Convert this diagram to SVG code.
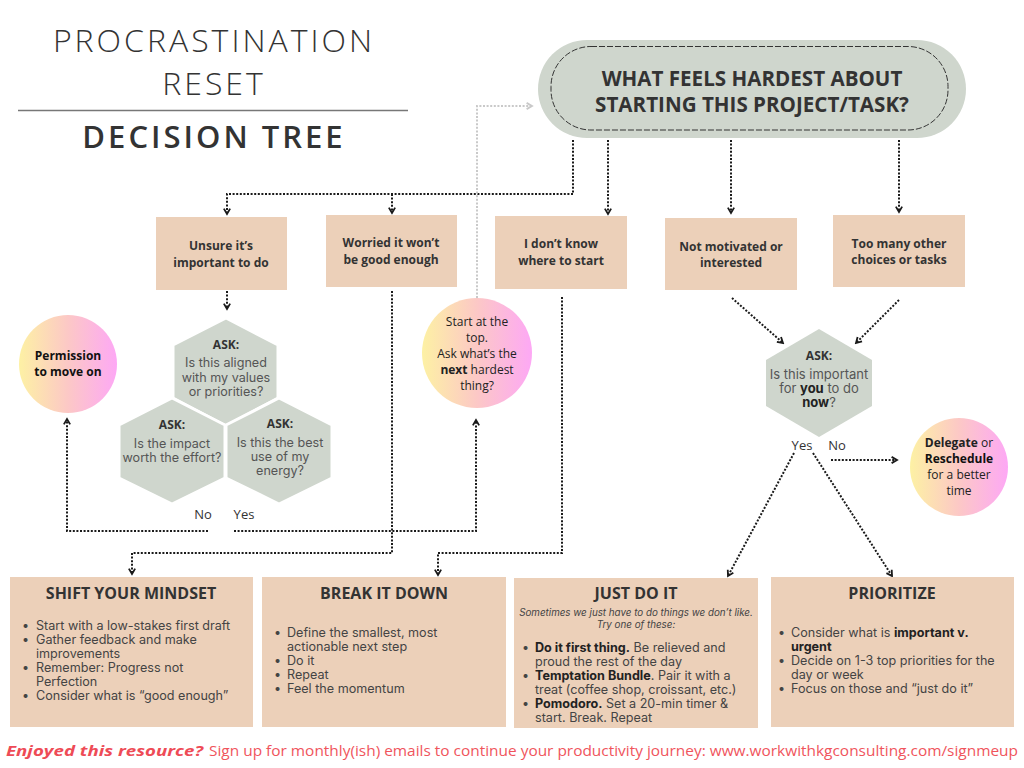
<svg xmlns="http://www.w3.org/2000/svg" width="1024" height="768" viewBox="0 0 1024 768">
<style>
.bg{fill:#ffffff}
.box{fill:#ecd0b9}
.sage{fill:#cfd6cd}
.hexs{fill:#cfd6cd;stroke:#ffffff;stroke-width:3;stroke-linejoin:round}
.lbl{font-family:"Open Sans",sans-serif;font-weight:700;font-size:12px;fill:#333;text-anchor:middle}
.ask{font-family:"Open Sans",sans-serif;font-weight:700;font-size:12px;fill:#333;text-anchor:middle}
.q{font-family:Inter,"Open Sans",sans-serif;font-weight:400;font-size:12.6px;fill:#555;text-anchor:middle}
.q2{font-family:Inter,"Open Sans",sans-serif;font-weight:400;font-size:13px;fill:#555;text-anchor:middle}
.circ{font-family:"Open Sans",sans-serif;font-weight:400;font-size:12px;fill:#222;text-anchor:middle}
.circb{font-family:"Open Sans",sans-serif;font-weight:700;font-size:12px;fill:#111;text-anchor:middle}
.yn{font-family:"Open Sans",sans-serif;font-weight:400;font-size:13px;fill:#333;text-anchor:middle}
.ttl{font-family:"Open Sans",sans-serif;font-weight:700;font-size:16px;fill:#333;text-anchor:middle}
.body{font-family:Inter,"Open Sans",sans-serif;font-weight:400;font-size:12.6px;fill:#444}
.it{font-family:Inter,"Open Sans",sans-serif;font-style:italic;font-size:9.8px;fill:#444;text-anchor:middle}
.b{font-weight:700;fill:#222}
.conn{fill:none;stroke:#1a1a1a;stroke-width:2;stroke-dasharray:2 1.6}
.connG{fill:none;stroke:#c9c9c9;stroke-width:2;stroke-dasharray:2 1.6}
</style>
<defs>
<marker id="ah" viewBox="0 0 10 10" refX="8" refY="5" markerWidth="9" markerHeight="9" orient="auto" markerUnits="userSpaceOnUse">
<path d="M2,1.5 L8,5 L2,8.5" fill="none" stroke="#1a1a1a" stroke-width="2"/>
</marker>
<marker id="ahG" viewBox="0 0 10 10" refX="8" refY="5" markerWidth="9" markerHeight="9" orient="auto" markerUnits="userSpaceOnUse">
<path d="M2,1.5 L8,5 L2,8.5" fill="none" stroke="#c9c9c9" stroke-width="2"/>
</marker>
<linearGradient id="grad" x1="0" y1="0" x2="1" y2="0">
<stop offset="0" stop-color="#fdf1a4"/>
<stop offset="0.5" stop-color="#fcc8c6"/>
<stop offset="1" stop-color="#fda8f5"/>
</linearGradient>
</defs>
<rect class="bg" x="0" y="0" width="1024" height="768"/>

<g id="title">
<text x="214" y="52" font-family="'Open Sans',sans-serif" font-weight="300" font-size="32" fill="#333" text-anchor="middle" letter-spacing="3">PROCRASTINATION</text>
<text x="214" y="95" font-family="'Open Sans',sans-serif" font-weight="300" font-size="32" fill="#333" text-anchor="middle" letter-spacing="3">RESET</text>
<line x1="18" y1="110.5" x2="408" y2="110.5" stroke="#777" stroke-width="1.5"/>
<text x="214" y="148" font-family="'Open Sans',sans-serif" font-weight="600" font-size="31" fill="#333" text-anchor="middle" letter-spacing="3">DECISION TREE</text>
</g>

<g id="connectors">
<path class="conn" d="M573,140 V194 H227 V214" marker-end="url(#ah)"/>
<path class="conn" d="M392,194 V213" marker-end="url(#ah)"/>
<path class="conn" d="M608,140 V214" marker-end="url(#ah)"/>
<path class="conn" d="M731,140 V213" marker-end="url(#ah)"/>
<path class="conn" d="M899,140 V212" marker-end="url(#ah)"/>
<path class="conn" d="M227,291 V309" marker-end="url(#ah)"/>
<path class="conn" d="M732,298 L783,343" marker-end="url(#ah)"/>
<path class="conn" d="M899,300 L856,343" marker-end="url(#ah)"/>
<path class="conn" d="M208,531 H67 V419" marker-end="url(#ah)"/>
<path class="conn" d="M234,531 H476 V420" marker-end="url(#ah)"/>
<path class="connG" d="M477,298 V106 H532" marker-end="url(#ahG)"/>
<path class="conn" d="M392,291 V553 H132 V574" marker-end="url(#ah)"/>
<path class="conn" d="M562,297 V553 H438 V575" marker-end="url(#ah)"/>
<path class="conn" d="M831,460 H897" marker-end="url(#ah)"/>
<path class="conn" d="M794,453 L728,576" marker-end="url(#ah)"/>
<path class="conn" d="M813,453 L892,576" marker-end="url(#ah)"/>
</g>

<g id="start">
<rect class="sage" x="538" y="40" width="428" height="98" rx="49"/>
<rect x="551" y="46.5" width="397" height="83.5" rx="40" fill="none" stroke="#333" stroke-width="1" stroke-dasharray="6 2"/>
<text x="752" y="86" font-family="'Open Sans',sans-serif" font-weight="700" font-size="20.6" fill="#333" text-anchor="middle">WHAT FEELS HARDEST ABOUT</text>
<text x="752" y="112" font-family="'Open Sans',sans-serif" font-weight="700" font-size="20.6" fill="#333" text-anchor="middle">STARTING THIS PROJECT/TASK?</text>
</g>

<g id="unsure">
<rect class="box" x="156" y="217" width="131" height="73"/>
<text class="lbl" x="221" y="250">Unsure it’s</text>
<text class="lbl" x="221" y="267">important to do</text>
</g>
<g id="worried">
<rect class="box" x="326" y="215" width="131" height="72"/>
<text class="lbl" x="391" y="247">Worried it won’t</text>
<text class="lbl" x="391" y="264">be good enough</text>
</g>
<g id="dontknow">
<rect class="box" x="495" y="216" width="132" height="73"/>
<text class="lbl" x="561" y="248">I don’t know</text>
<text class="lbl" x="561" y="265">where to start</text>
</g>
<g id="notmotivated">
<rect class="box" x="665" y="218" width="132" height="72"/>
<text class="lbl" x="731" y="251">Not motivated or</text>
<text class="lbl" x="731" y="267">interested</text>
</g>
<g id="toomany">
<rect class="box" x="833" y="215" width="132" height="72"/>
<text class="lbl" x="899" y="248">Too many other</text>
<text class="lbl" x="899" y="264">choices or tasks</text>
</g>

<g id="hex-aligned">
<polygon class="hexs" points="226,318 278,345 278,398 226,426 173,398 173,345"/>
<text class="ask" x="226" y="349">ASK:</text>
<text class="q" x="226" y="367">Is this aligned</text>
<text class="q" x="226" y="382">with my values</text>
<text class="q" x="226" y="396">or priorities?</text>
</g>
<g id="hex-impact">
<polygon class="hexs" points="172,398 225,425 225,478 172,504 119,478 119,425"/>
<text class="ask" x="172" y="429">ASK:</text>
<text class="q" x="172" y="448">Is the impact</text>
<text class="q" x="172" y="462">worth the effort?</text>
</g>
<g id="hex-energy">
<polygon class="hexs" points="279,398 332,425 332,478 279,504 226,478 226,425"/>
<text class="ask" x="280" y="428">ASK:</text>
<text class="q" x="280" y="447">Is this the best</text>
<text class="q" x="280" y="461">use of my</text>
<text class="q" x="280" y="475">energy?</text>
</g>
<g id="yesno-left">
<text class="yn" x="203" y="519">No</text>
<text class="yn" x="244" y="519">Yes</text>
</g>

<g id="permission">
<circle cx="68" cy="364" r="49" fill="url(#grad)"/>
<text class="circb" x="68" y="360">Permission</text>
<text class="circb" x="68" y="376">to move on</text>
</g>

<g id="nexthardest">
<circle cx="477" cy="353" r="55" fill="url(#grad)"/>
<text class="circ" x="477" y="326">Start at the</text>
<text class="circ" x="477" y="342">top.</text>
<text class="circ" x="477" y="358">Ask what’s the</text>
<text class="circ" x="477" y="374"><tspan class="b">next</tspan> hardest</text>
<text class="circ" x="477" y="390">thing?</text>
</g>

<g id="hex-important">
<polygon class="sage" points="819,329 872,360 872,406 819,437 766,406 766,360"/>
<text class="ask" x="819" y="360">ASK:</text>
<text class="q2" x="819" y="379">Is this important</text>
<text class="q2" x="819" y="393">for <tspan class="b">you</tspan> to do</text>
<text class="q2" x="819" y="407"><tspan class="b">now</tspan>?</text>
<text class="yn" x="802" y="450">Yes</text>
<text class="yn" x="837" y="450">No</text>
</g>

<g id="delegate">
<circle cx="959" cy="467" r="49" fill="url(#grad)"/>
<text class="circ" x="959" y="447"><tspan class="b">Delegate</tspan> or</text>
<text class="circb" x="959" y="463">Reschedule</text>
<text class="circ" x="959" y="479">for a better</text>
<text class="circ" x="959" y="495">time</text>
</g>

<g id="mindset">
<rect class="box" x="10" y="577" width="243" height="150"/>
<text class="ttl" x="131" y="599">SHIFT YOUR MINDSET</text>
<g class="body">
<text x="22" y="630">•</text><text x="36" y="630">Start with a low-stakes first draft</text>
<text x="22" y="644">•</text><text x="36" y="644">Gather feedback and make</text>
<text x="36" y="658">improvements</text>
<text x="22" y="672">•</text><text x="36" y="672">Remember: Progress not</text>
<text x="36" y="686">Perfection</text>
<text x="22" y="700">•</text><text x="36" y="700">Consider what is “good enough”</text>
</g>
</g>

<g id="breakdown">
<rect class="box" x="262" y="577" width="244" height="150"/>
<text class="ttl" x="384" y="599">BREAK IT DOWN</text>
<g class="body">
<text x="274" y="637">•</text><text x="287" y="637">Define the smallest, most</text>
<text x="287" y="651">actionable next step</text>
<text x="274" y="665">•</text><text x="287" y="665">Do it</text>
<text x="274" y="679">•</text><text x="287" y="679">Repeat</text>
<text x="274" y="693">•</text><text x="287" y="693">Feel the momentum</text>
</g>
</g>

<g id="justdoit">
<rect class="box" x="514" y="578" width="244" height="150"/>
<text class="ttl" x="636" y="599">JUST DO IT</text>
<text class="it" x="636" y="616">Sometimes we just have to do things we don’t like.</text>
<text class="it" x="636" y="628">Try one of these:</text>
<g class="body">
<text x="522" y="652">•</text><text x="535" y="652"><tspan class="b">Do it first thing.</tspan> Be relieved and</text>
<text x="535" y="666">proud the rest of the day</text>
<text x="522" y="680">•</text><text x="535" y="680"><tspan class="b">Temptation Bundle</tspan>. Pair it with a</text>
<text x="535" y="694">treat (coffee shop, croissant, etc.)</text>
<text x="522" y="708">•</text><text x="535" y="708"><tspan class="b">Pomodoro.</tspan> Set a 20-min timer &amp;</text>
<text x="535" y="722">start. Break. Repeat</text>
</g>
</g>

<g id="prioritize">
<rect class="box" x="771" y="577" width="243" height="150"/>
<text class="ttl" x="892" y="599">PRIORITIZE</text>
<g class="body">
<text x="778" y="637">•</text><text x="791" y="637">Consider what is <tspan class="b">important v.</tspan></text>
<text x="791" y="651" class="b">urgent</text>
<text x="778" y="665">•</text><text x="791" y="665">Decide on 1-3 top priorities for the</text>
<text x="791" y="679">day or week</text>
<text x="778" y="693">•</text><text x="791" y="693">Focus on those and “just do it”</text>
</g>
</g>

<g id="footer">
<text x="6" y="756" font-family="'Open Sans',sans-serif" font-weight="700" font-style="italic" font-size="15" fill="#ee4b56" textLength="197" lengthAdjust="spacingAndGlyphs">Enjoyed this resource?</text>
<text x="209" y="756" font-family="'Open Sans',sans-serif" font-weight="400" font-size="15" fill="#f0545c" textLength="809" lengthAdjust="spacingAndGlyphs">Sign up for monthly(ish) emails to continue your productivity journey: www.workwithkgconsulting.com/signmeup</text>
</g>
</svg>
